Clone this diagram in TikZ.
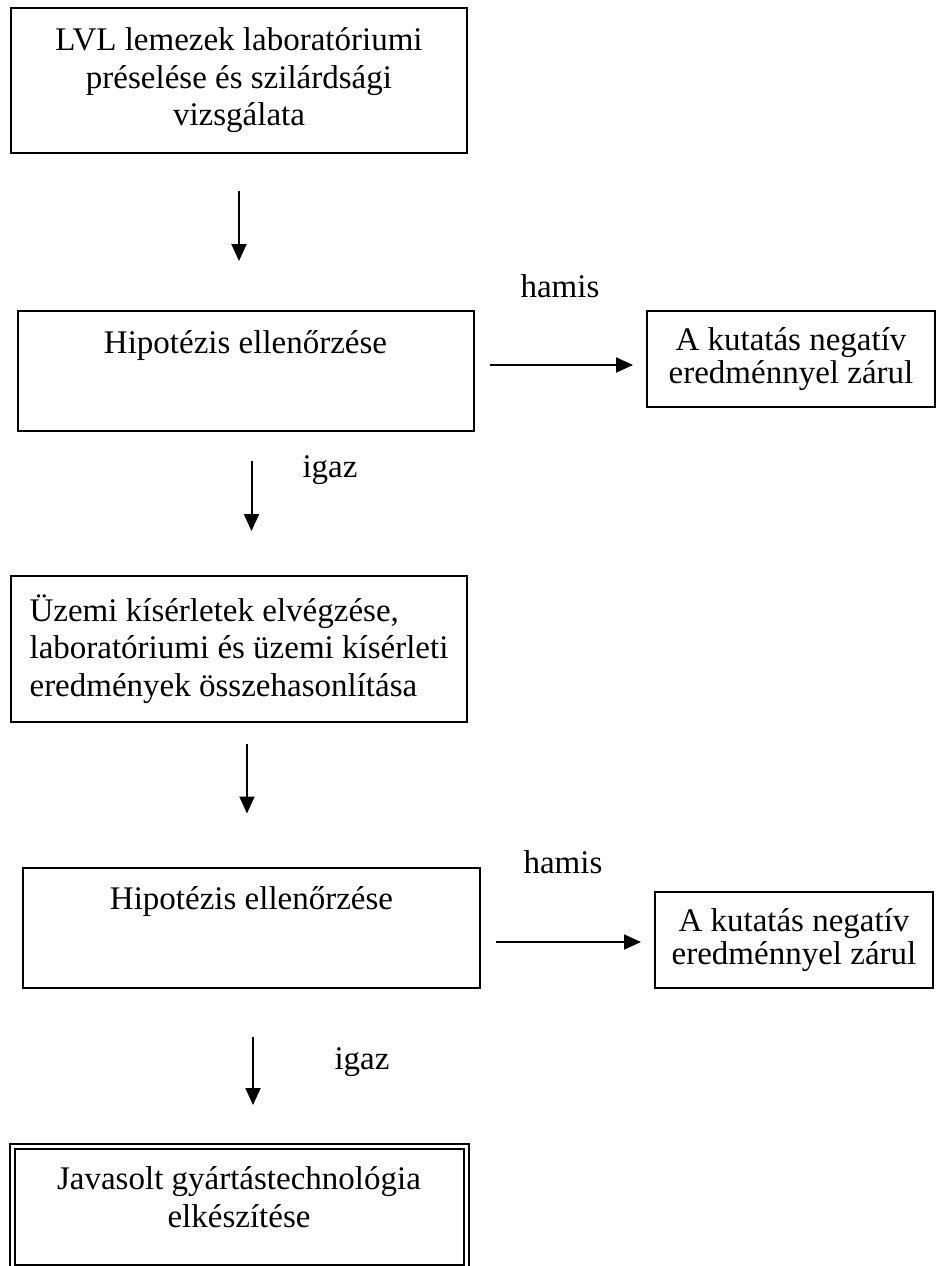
\documentclass[tikz,border=0pt]{standalone}
\usepackage{fontspec}
\setmainfont{Liberation Serif}
\usetikzlibrary{arrows.meta}
\tikzset{
    box/.style={draw, line width=2pt, inner sep=0pt, font=\fontsize{33}{37.5}\selectfont},
    hypbox/.style={box, minimum width=456pt, text height=42pt, text depth=78pt},
    negbox/.style={box, minimum height=96pt, align=center, font=\fontsize{33}{33}\selectfont},
    flow/.style={line width=2pt, -{Triangle[length=17pt,width=15pt]}},
    lbl/.style={font=\fontsize{33}{37.5}\selectfont}
}

\begin{document}
\begin{tikzpicture}[x=1pt,y=-1pt]
    \useasboundingbox (0,0) rectangle (941,1266);
    % steps
    \node[box, minimum width=456pt, minimum height=145pt, align=center] (lab) at (239,80.5)
        {LVL lemezek laboratóriumi\\préselése és szilárdsági\\vizsgálata};
    \node[hypbox] (hypa) at (245.5,371) {Hipotézis ellenőrzése};
    \node[negbox, minimum width=288pt] (nega) at (791,359) {A kutatás negatív\\eredménnyel zárul};
    \node[box, minimum width=456pt, minimum height=146pt, align=left] (plant) at (239,649)
        {Üzemi kísérletek elvégzése,\\laboratóriumi és üzemi kísérleti\\eredmények összehasonlítása};
    \node[hypbox, minimum width=457pt] (hypb) at (251.5,927.5) {Hipotézis ellenőrzése};
    \node[negbox, minimum width=278pt] (negb) at (794,940) {A kutatás negatív\\eredménnyel zárul};
    \node[box, double, double distance=3pt, minimum width=454pt, align=center,
          text height=81pt, text depth=40pt] (tech) at (239,1206.5)
        {Javasolt gyártástechnológia\\elkészítése};
    % connectors
    \draw[flow, shorten <=37pt, shorten >=49pt] (lab.south) -- (lab.south |- hypa.north);
    \draw[flow, shorten <=15pt, shorten >=13pt] ([yshift=6pt]hypa.east) -- ([yshift=6pt]hypa.east -| nega.west);
    \draw[flow, shorten <=29pt, shorten >=44pt] ([xshift=6pt]hypa.south) -- ([xshift=6pt]hypa.south |- plant.north);
    \draw[flow, shorten <=21pt, shorten >=53pt] ([xshift=8pt]plant.south) -- ([xshift=8pt]plant.south |- hypb.north);
    \draw[flow, shorten <=15pt, shorten >=13pt] ([yshift=-14.5pt]hypb.east) -- ([yshift=-14.5pt]hypb.east -| negb.west);
    \draw[flow, shorten <=48pt, shorten >=40pt] ([xshift=1.5pt]hypb.south) -- ([xshift=1.5pt]hypb.south |- tech.north);
    % labels
    \node[lbl] (hamisa) at (560,286) {hamis};
    \node[lbl] (igaza) at (330,470) {igaz};
    \node[lbl] (hamisb) at (563,862) {hamis};
    \node[lbl] (igazb) at (362,1062) {igaz};
\end{tikzpicture}
\end{document}
